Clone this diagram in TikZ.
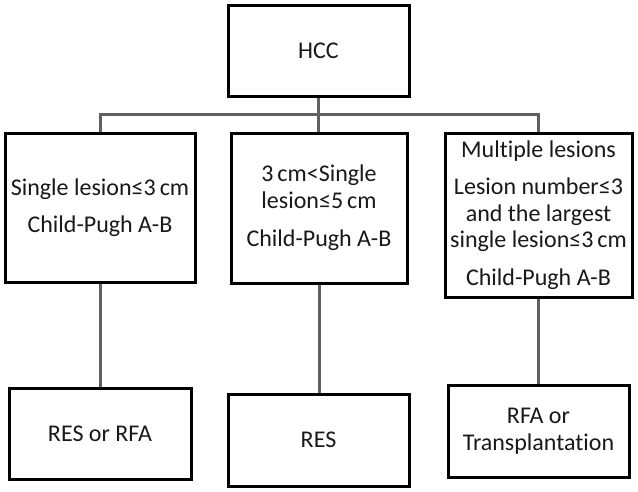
\documentclass[tikz,border=0pt]{standalone}
\usepackage{fontspec}
\setmainfont{Carlito}[Ligatures={NoCommon}]
\begin{document}
\begin{tikzpicture}[x=1pt,y=-1pt,
  box/.style={draw=black,line width=3pt,fill=white,inner sep=0pt,align=center,
    font=\fontsize{24}{26.5}\selectfont,text=black!90},
  conn/.style={draw=black!62,line width=3pt}]
\useasboundingbox[fill=white] (0,0) rectangle (638,491);
\node[box,minimum width=181pt,minimum height=91pt] (hcc) at (318.5,50.5) {HCC};
\node[box,minimum width=190pt,minimum height=149pt] (b1) at (100,207.5)
  {Single lesion≤3\,cm\\[10.5pt]Child-Pugh A-B};
\node[box,minimum width=176pt,minimum height=150pt] (b2) at (319,208)
  {3\,cm<Single\\lesion≤5\,cm\\[12pt]Child-Pugh A-B};
\node[box,minimum width=187pt,minimum height=164pt] (b3) at (538.5,215)
  {Multiple lesions\\[11pt]Lesion number≤3\\and the largest\\single lesion≤3\,cm\\[11pt]Child-Pugh A-B};
\node[box,minimum width=182pt,minimum height=91pt] (r1) at (100,433.5) {RES or RFA};
\node[box,minimum width=181pt,minimum height=92pt] (r2) at (318.5,440) {RES};
\node[box,minimum width=181pt,minimum height=92pt] (r3) at (538.5,431) {RFA or\\Transplantation};
\coordinate (bar) at (0,114.5);
\draw[conn] (hcc.south) -- (hcc.south |- b2.north);
\draw[conn] (b1.north) -- (b1.north |- bar) -- (b3.north |- bar) -- (b3.north);
\draw[conn] (b1.south) -- (r1.north);
\draw[conn] (b2.south) -- (b2.south |- r2.north);
\draw[conn] (b3.south) -- (b3.south |- r3.north);
\end{tikzpicture}
\end{document}
